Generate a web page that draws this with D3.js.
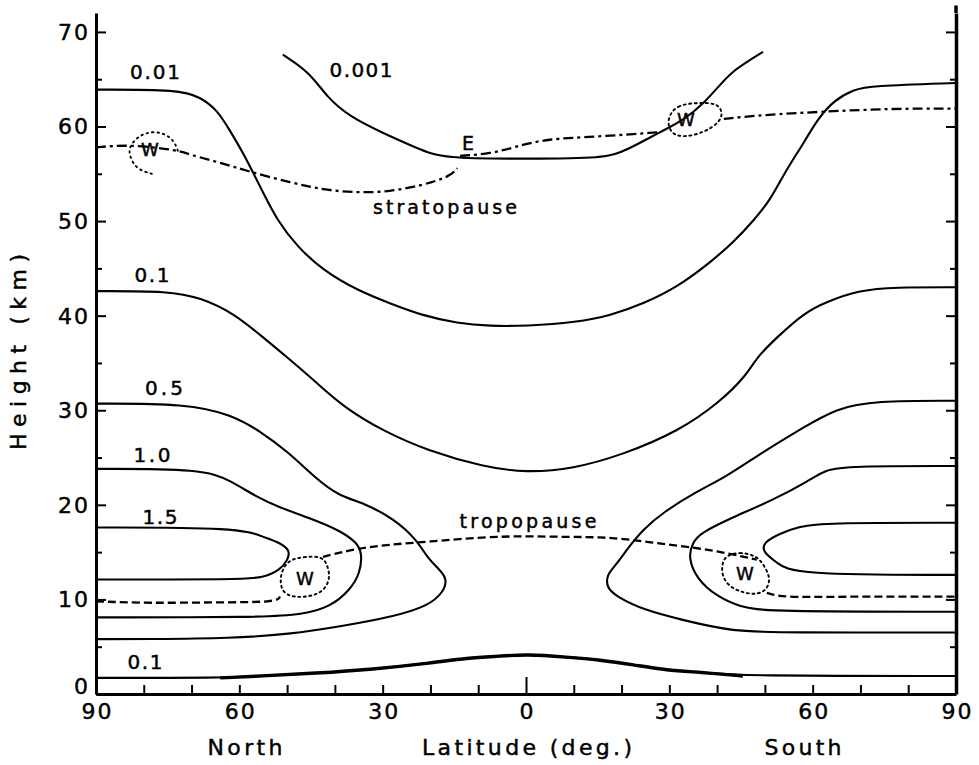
<!DOCTYPE html>
<html><head><meta charset="utf-8">
<script src="https://cdn.jsdelivr.net/npm/d3@7"></script>
<style>
html,body{margin:0;padding:0;background:#fff;}
svg{display:block;}
text{font-family:"DejaVu Sans",sans-serif;fill:#000;stroke:#000;stroke-width:0.45px;}
</style>
</head><body>
<svg id="chart" width="979" height="765"></svg>
<script>
// ---------------- DATA (latitude: + = North, - = South; height in km) ----------------
const latTickValues = [90,80,70,60,50,40,30,20,10,0,-10,-20,-30,-40,-50,-60,-70,-80,-90];
const latLabelValues = [90,60,30,0,-30,-60,-90];
const heightMinorTicks = [5,15,25,35,45,55,65];
const heightMajorTicks = [0,10,20,30,40,50,60,70];

const contour0001 = [[50.9,67.6],[45.2,65.7],[41.7,63.1],[36.8,61.0],[29.9,59.3],[22.8,57.7],[17.4,56.6],[0,56.6],[-16.5,56.6],[-21.1,57.5],[-28.0,59.4],[-33.1,60.7],[-37.3,62.5],[-40.6,64.4],[-43.5,66.0],[-49.6,67.9]];
const contour001 = [[90,63.9],[72.4,63.9],[68.2,63.1],[64.7,61.8],[62.0,59.6],[59.2,57.2],[57.1,55.1],[55.0,53.0],[52.1,50.1],[47.9,47.3],[42.5,44.8],[35.4,42.7],[28.5,41.3],[21.6,40.0],[14.4,39.2],[7.5,38.9],[0,38.9],[-10.7,39.3],[-17.6,40.0],[-24.7,41.3],[-31.6,43.0],[-38.5,45.6],[-43.5,47.8],[-47.7,50.1],[-51.1,52.2],[-54.2,55.2],[-58.2,58.3],[-60.9,60.7],[-64.5,62.8],[-68.6,63.9],[-72.0,64.3],[-90,64.6]];
const contour01Upper = [[90,42.6],[74.5,42.6],[68.2,41.9],[61.3,40.3],[55.0,37.7],[50.0,35.6],[44.0,33.0],[38.1,30.3],[29.9,27.8],[20.5,25.7],[8.8,24.0],[0,23.4],[-9.8,23.8],[-20.3,25.3],[-32.0,27.8],[-40.4,30.8],[-46.0,33.6],[-48.3,35.6],[-52.5,37.7],[-58.2,40.3],[-63.0,41.5],[-69.9,42.7],[-77.0,43.0],[-90,43.0]];
const contour05North = [[90,30.7],[71.0,30.7],[61.5,29.5],[55.7,27.8],[49.8,25.6],[44.0,22.8],[39.4,21.0],[33.5,20.1],[27.6,18.5],[23.0,16.4],[20.5,14.3],[18.2,13.2],[16.5,12.2],[17.2,10.8],[20.5,9.3],[27.6,8.2],[38.1,7.2],[49.8,6.3],[61.5,5.9],[79.1,5.8],[90,5.8]];
const contour05South = [[-90,31.0],[-73.0,31.0],[-64.9,30.2],[-57.8,28.1],[-49.6,25.6],[-41.4,22.8],[-35.6,21.4],[-28.7,19.2],[-24.5,17.4],[-21.6,15.6],[-18.6,13.5],[-16.9,12.6],[-16.9,11.2],[-19.0,10.3],[-24.5,8.9],[-32.9,7.8],[-43.3,6.6],[-53.8,6.5],[-90,6.5]];
const contour10North = [[90,23.8],[67.6,23.8],[62.0,22.6],[56.3,20.8],[51.5,19.7],[45.8,18.7],[38.9,17.3],[35.4,16.0],[34.3,14.9],[34.7,12.8],[36.8,11.0],[41.0,9.2],[46.7,8.4],[55.7,8.1],[90,8.1]];
const contour10South = [[-90,24.1],[-67.4,24.1],[-62.6,23.7],[-59.4,22.6],[-51.7,20.5],[-43.3,18.7],[-36.4,17.0],[-34.9,16.0],[-33.9,14.5],[-35.8,12.1],[-40.0,10.3],[-44.8,9.2],[-50.4,8.7],[-90,8.7]];
const contour15North = [[90,17.6],[59.9,17.6],[55.0,16.6],[51.5,16.0],[49.4,15.2],[49.8,14.2],[51.5,13.1],[55.0,12.3],[59.9,12.1],[90,12.1]];
const contour15South = [[-90,18.1],[-61.9,18.1],[-57.3,17.7],[-53.2,17.0],[-49.6,16.0],[-49.6,15.0],[-52.5,13.9],[-55.9,12.6],[-90,12.6]];
const contour01Lower = [[90,1.7],[64.0,1.7],[55.7,1.9],[44.0,2.2],[32.2,2.6],[19.5,3.3],[12.4,3.8],[5.4,4.0],[0,4.2],[-8.6,3.9],[-15.5,3.6],[-22.4,3.1],[-29.5,2.5],[-36.4,2.3],[-45.4,1.9],[-90,1.9]];

const tropopauseNorth = [[90,9.8],[78.7,9.6],[65,9.7],[52.1,9.7],[51.5,10.3]];
const tropopauseMid = [[42.5,14.5],[35.4,15.4],[28.5,15.8],[20.5,16.1],[8.8,16.6],[0,16.7],[-8.6,16.6],[-15.5,16.6],[-22.4,16.3],[-29.5,15.8],[-36.4,15.4],[-42.1,14.9],[-48.3,14.2]];
const tropopauseSouth = [[-50.4,10.7],[-53.8,10.2],[-64.2,10.3],[-90,10.3]];

const stratopauseLow = [[90,57.8],[82.9,58.1],[72.8,57.5],[70.3,57.0],[63.4,56.1],[57.8,55.2],[49.4,54.1],[42.5,53.3],[35.4,53.0],[28.5,53.1],[21.6,53.8],[15.9,54.7],[14.4,55.6]];
const stratopauseHigh = [[13.8,56.9],[7.5,57.1],[1.9,57.9],[-4.4,58.7],[-14.2,58.9],[-28.0,59.4]];
const stratopauseSouth = [[-41.4,60.8],[-48.9,61.2],[-63.0,61.6],[-77.0,61.9],[-90,61.9]];

const wLoopUpperNorth = [[78.3,55.0],[81.2,55.4],[82.7,56.5],[83.3,57.7],[81.4,58.9],[78.7,59.5],[75.6,59.3],[73.5,58.4],[72.8,57.3]];
const wLoopUpperSouth = [[-29.5,60.9],[-31.6,62.3],[-35.8,62.5],[-40.0,62.5],[-41.2,61.5],[-40.6,60.5],[-37.5,59.4],[-32.9,58.8],[-30.1,59.3]];
const wLoopLowerNorth = [[49.4,14.2],[46.7,14.5],[42.5,14.6],[41.4,13.4],[41.0,12.1],[42.5,10.8],[45.2,10.3],[48.8,10.2],[51.1,10.8],[51.5,12.1],[50.9,13.3]];
const wLoopLowerSouth = [[-42.1,14.7],[-44.8,15.0],[-47.5,14.7],[-49.0,14.2],[-50.4,13.1],[-51.1,12.1],[-50.4,11.0],[-48.3,10.5],[-45.4,10.7],[-42.7,11.3],[-41.0,12.4],[-41.0,13.9]];

const contourLabels = [
  {text:"0.01", lat:77.65, h:65.77},
  {text:"0.001", lat:34.54, h:65.98},
  {text:"0.1", lat:78.28, h:44.31},
  {text:"0.5", lat:75.77, h:32.36},
  {text:"1.0", lat:78.28, h:25.27},
  {text:"1.5", lat:76.6, h:18.72},
  {text:"0.1", lat:79.74, h:3.38}
];
const featureLabels = [
  {text:"stratopause", lat:16.96, h:51.5},
  {text:"tropopause", lat:-0.42, h:18.29}
];
const eastLabel = {text:"E", lat:12.14, h:58.2};
const windLabels = [
  {text:"W", lat:78.7, h:57.52},
  {text:"W", lat:-33.48, h:60.7},
  {text:"W", lat:46.26, h:12.16},
  {text:"W", lat:-45.83, h:12.79}
];

// ---------------- LAYOUT ----------------
const svg = d3.select("#chart");
const x = d3.scaleLinear().domain([90,-90]).range([96,956]);
const y = d3.scaleLinear().domain([0,72]).range([694,13]);

const smooth = d3.line().x(d=>x(d[0])).y(d=>y(d[1])).curve(d3.curveBasis);
const closedSmooth = d3.line().x(d=>x(d[0])).y(d=>y(d[1])).curve(d3.curveBasisClosed);

// contours
const contours = [contour0001, contour001, contour01Upper, contour05North, contour05South,
  contour10North, contour10South, contour15North, contour15South, contour01Lower];
svg.append("g").selectAll("path").data(contours).join("path")
  .attr("d", smooth).attr("fill","none").attr("stroke","#000").attr("stroke-width",2.1)
  .attr("stroke-linejoin","round");
// thicker central bump of the lowest contour
svg.append("path").attr("d", smooth(contour01Lower.filter(d=>d[0]<=64 && d[0]>=-46)))
  .attr("fill","none").attr("stroke","#000").attr("stroke-width",3.4);

// tropopause / stratopause
[tropopauseNorth, tropopauseMid, tropopauseSouth].forEach(seg=>{
  svg.append("path").attr("d", smooth(seg)).attr("fill","none").attr("stroke","#000")
    .attr("stroke-width",2.3).attr("stroke-dasharray","8,4");
});
[stratopauseLow, stratopauseHigh, stratopauseSouth].forEach(seg=>{
  svg.append("path").attr("d", smooth(seg)).attr("fill","none").attr("stroke","#000")
    .attr("stroke-width",2.3).attr("stroke-dasharray","10,4,3,4");
});

// W loops (dotted)
svg.append("path").attr("d", smooth(wLoopUpperNorth)).attr("fill","none").attr("stroke","#000")
  .attr("stroke-width",1.9).attr("stroke-dasharray","1.5,4").attr("stroke-linecap","round");
[wLoopUpperSouth, wLoopLowerNorth, wLoopLowerSouth].forEach(loop=>{
  svg.append("path").attr("d", closedSmooth(loop)).attr("fill","none").attr("stroke","#000")
    .attr("stroke-width",1.9).attr("stroke-dasharray","2,3.5").attr("stroke-linecap","round");
});

// labels
const labelWidths = {"0.01":50,"0.001":63,"0.1":35,"0.5":38,"1.0":37,"1.5":35};
svg.append("g").selectAll("text").data(contourLabels).join("text")
  .attr("x", d=>x(d.lat)).attr("y", d=>y(d.h)).attr("dy","0.36em")
  .attr("text-anchor","middle").attr("font-size",20)
  .attr("textLength", d=>labelWidths[d.text]).attr("lengthAdjust","spacing")
  .text(d=>d.text);
const featWidths = {"stratopause":144,"tropopause":137};
svg.append("g").selectAll("text").data(featureLabels).join("text")
  .attr("x", d=>x(d.lat)).attr("y", d=>y(d.h)).attr("dy","0.36em")
  .attr("text-anchor","middle").attr("font-size",19)
  .attr("textLength", d=>featWidths[d.text]).attr("lengthAdjust","spacing")
  .text(d=>d.text);
svg.append("text").attr("x", x(eastLabel.lat)).attr("y", y(eastLabel.h)).attr("dy","0.36em")
  .attr("text-anchor","middle").attr("font-size",19).text(eastLabel.text);
svg.append("g").selectAll("text").data(windLabels).join("text")
  .attr("x", d=>x(d.lat)).attr("y", d=>y(d.h)).attr("dy","0.36em")
  .attr("text-anchor","middle").attr("font-size",18)
  .text(d=>d.text);

// ---------------- AXES ----------------
const axisW = 3;
// bottom axis
const gx = svg.append("g").attr("transform",`translate(0,${y(0)})`);
gx.call(d3.axisBottom(x).tickValues(latTickValues).tickSizeInner(-9).tickSizeOuter(0).tickFormat(""));
gx.select(".domain").attr("stroke-width",axisW);
gx.selectAll(".tick line").attr("stroke-width",2).attr("y2", d=>d===0?-17:-9);
const gxl = svg.append("g").attr("transform",`translate(0,${y(0)})`);
gxl.call(d3.axisBottom(x).tickValues(latLabelValues).tickSize(0).tickPadding(0).tickFormat(d=>Math.abs(d)));
gxl.select(".domain").remove();
gxl.selectAll("text").attr("font-size",22).attr("font-family","DejaVu Sans").attr("y",25).attr("dy",0)
  .attr("textLength", d=>d===0?14:30).attr("lengthAdjust","spacing");

// left axis
const gy = svg.append("g").attr("transform",`translate(${x(90)},0)`);
gy.call(d3.axisLeft(y).tickValues(heightMajorTicks).tickSizeInner(-10).tickSizeOuter(0).tickPadding(8));
gy.select(".domain").attr("stroke-width",axisW);
gy.selectAll(".tick line").attr("stroke-width",2);
gy.selectAll("text").attr("font-size",22).attr("font-family","DejaVu Sans").attr("dy","0.34em")
  .attr("y", d=>d===0?-8:0).attr("textLength", d=>d===0?14:30).attr("lengthAdjust","spacing");
const gym = svg.append("g").attr("transform",`translate(${x(90)},0)`);
gym.call(d3.axisLeft(y).tickValues(heightMinorTicks).tickSizeInner(-6).tickSizeOuter(0).tickFormat(""));
gym.select(".domain").remove();
gym.selectAll(".tick line").attr("stroke-width",2);

// right axis
const gr = svg.append("g").attr("transform",`translate(${x(-90)},0)`);
gr.call(d3.axisRight(y).tickValues(heightMajorTicks).tickSizeInner(-10).tickSizeOuter(0).tickFormat(""));
gr.select(".domain").attr("stroke-width",axisW+0.5);
gr.selectAll(".tick line").attr("stroke-width",2);
const grm = svg.append("g").attr("transform",`translate(${x(-90)},0)`);
grm.call(d3.axisRight(y).tickValues(heightMinorTicks).tickSizeInner(-6).tickSizeOuter(0).tickFormat(""));
grm.select(".domain").remove();
grm.selectAll(".tick line").attr("stroke-width",2);
svg.append("line").attr("x1",x(-90)).attr("x2",x(-90)).attr("y1",y(72)).attr("y2",y(72.8))
  .attr("stroke","#000").attr("stroke-width",axisW+0.5);

// axis titles
svg.append("text").attr("x",245).attr("y",755).attr("text-anchor","middle").attr("font-size",22)
  .attr("textLength",75).attr("lengthAdjust","spacing").text("North");
svg.append("text").attr("x",(x(90)+x(-90))/2+1).attr("y",755).attr("text-anchor","middle").attr("font-size",22)
  .attr("textLength",210).attr("lengthAdjust","spacing").text("Latitude (deg.)");
svg.append("text").attr("x",803).attr("y",755).attr("text-anchor","middle").attr("font-size",22)
  .attr("textLength",77).attr("lengthAdjust","spacing").text("South");
svg.append("text").attr("transform","translate(26,352) rotate(-90)").attr("text-anchor","middle")
  .attr("font-size",22).attr("textLength",196).attr("lengthAdjust","spacing").text("Height (km)");
</script>
</body></html>
